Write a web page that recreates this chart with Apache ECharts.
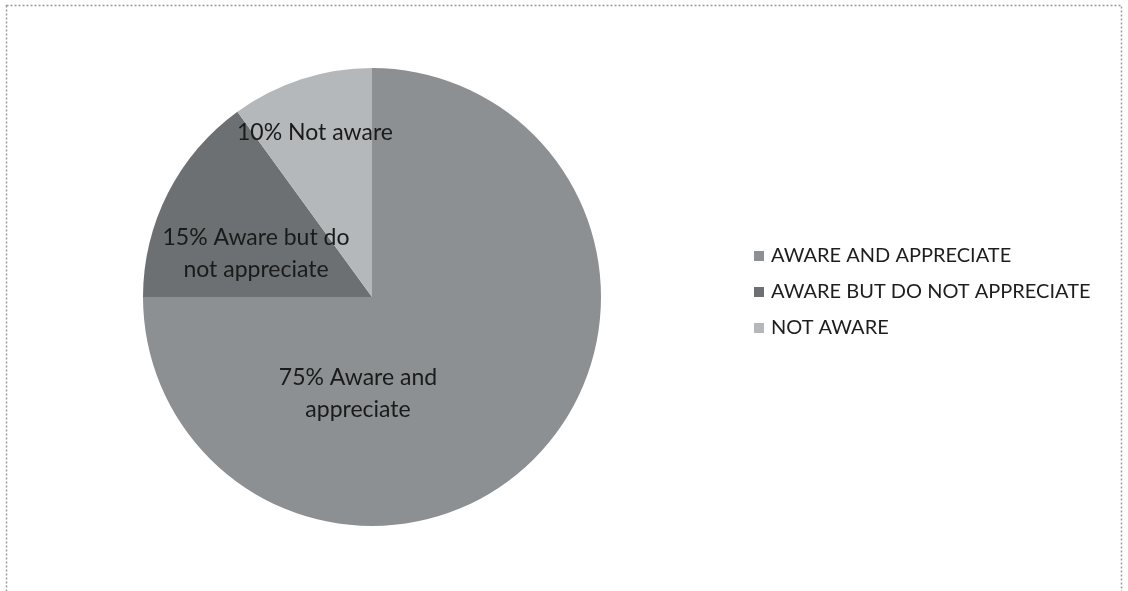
<!DOCTYPE html>
<html>
<head>
<meta charset="utf-8">
<script src="https://cdn.jsdelivr.net/npm/echarts@6/dist/echarts.min.js"></script>
<style>
html,body{margin:0;padding:0;background:#fff;}
#c{width:1128px;height:591px;}
</style>
</head>
<body>
<div id="c"></div>
<script>
var categories = ['AWARE AND APPRECIATE', 'AWARE BUT DO NOT APPRECIATE', 'NOT AWARE'];
var values = [75, 15, 10];
var sliceLabels = ['75% Aware and\nappreciate', '15% Aware but do\nnot appreciate', '10% Not aware'];

var colors = ['#8c9092', '#6c7072', '#b5b8ba'];
var labelPos = [
  {x: 358, y: 394},
  {x: 256, y: 254},
  {x: 315, y: 133}
];

var chart = echarts.init(document.getElementById('c'), null, {renderer: 'canvas'});
var fontFamily = 'Lato, "Open Sans", sans-serif';
chart.setOption({
  animation: false,
  backgroundColor: '#ffffff',
  color: colors,
  graphic: [{
    type: 'rect',
    shape: {x: 6.5, y: 5.5, width: 1115, height: 600},
    style: {fill: 'none', stroke: '#9a9a9a', lineWidth: 1.5, lineDash: [2, 2]},
    silent: true
  }],
  legend: {
    orient: 'vertical',
    left: 749,
    top: 241,
    itemWidth: 10,
    itemHeight: 10,
    itemGap: 16,
    icon: 'rect',
    textStyle: {fontFamily: fontFamily, fontSize: 20, lineHeight: 20, color: '#1e1e1e', padding: [0, 0, 0, 2]},
    data: categories
  },
  series: [{
    type: 'pie',
    center: [372, 297],
    radius: 229,
    startAngle: 90,
    clockwise: true,
    silent: true,
    itemStyle: {borderWidth: 0},
    label: {
      show: true,
      position: 'inside',
      formatter: function (p) { return sliceLabels[p.dataIndex]; },
      fontFamily: fontFamily,
      fontSize: 23,
      lineHeight: 32,
      color: '#1a1a1a',
      align: 'center'
    },
    labelLine: {show: false},
    labelLayout: function (p) {
      var pos = labelPos[p.dataIndex];
      return {x: pos.x, y: pos.y, align: 'center', verticalAlign: 'middle'};
    },
    data: categories.map(function (c, i) { return {name: c, value: values[i]}; })
  }]
});
</script>
</body>
</html>
